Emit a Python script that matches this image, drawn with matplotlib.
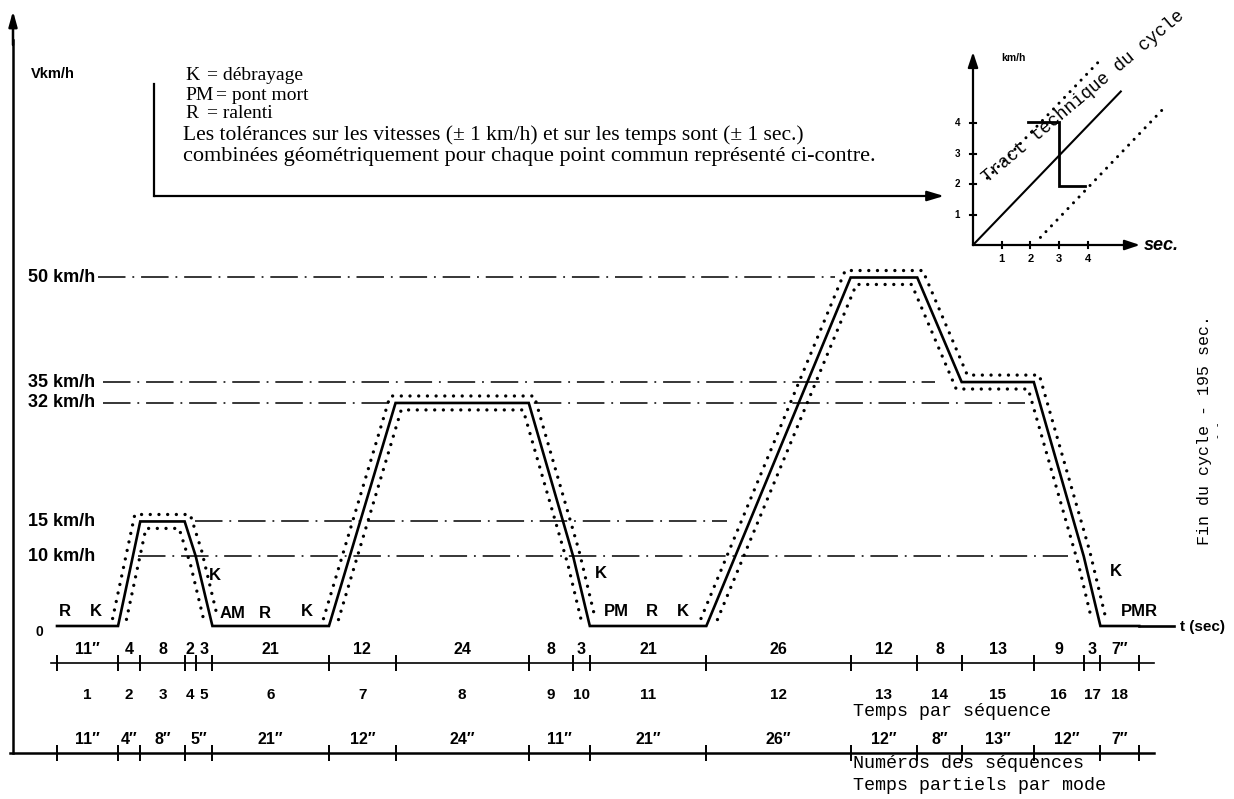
import numpy as np
import matplotlib
matplotlib.use("Agg")
import matplotlib.pyplot as plt
from matplotlib import transforms
from matplotlib.lines import Line2D
from numpy.lib.stride_tricks import sliding_window_view

# ---------------- data ----------------
seq_numbers = list(range(1, 19))
seq_durations = [11, 4, 8, 2, 3, 21, 12, 24, 8, 3, 21, 26, 12, 8, 13, 9, 3, 7]
seq_end_speeds = [0, 15, 15, 10, 0, 0, 32, 32, 10, 0, 0, 50, 50, 35, 35, 10, 0, 0]
seq_time_labels = ["11″", "4", "8", "2", "3", "21", "12", "24", "8", "3",
                   "21", "26", "12", "8", "13", "9", "3", "7″"]
mode_durations = [11, 4, 8, 5, 21, 12, 24, 11, 21, 26, 12, 8, 13, 12, 7]
mode_time_labels = ["11″", "4″", "8″", "5″", "21″", "12″", "24″", "11″",
                    "21″", "26″", "12″", "8″", "13″", "12″", "7″"]
ref_speeds = [50, 35, 32, 15, 10]
ref_speed_labels = ["50 km/h", "35 km/h", "32 km/h", "15 km/h", "10 km/h"]
speed_tolerance = 1.0   # km/h
time_tolerance = 1.0    # s
gear_labels = ["R", "K", "K", "AM", "R", "K", "K", "PM", "R", "K", "K", "PMR"]

inset_ticks = [1, 2, 3, 4]
inset_nominal_x = [0, 5.15]
inset_nominal_y = [0, 5.05]
inset_upper_x = [0.5, 4.35]
inset_upper_y = [2.2, 6.0]
inset_lower_x = [2.35, 6.7]
inset_lower_y = [0.25, 4.55]
inset_step_x = [1.9, 3.0, 3.0, 3.9]
inset_step_y = [4.05, 4.05, 1.95, 1.95]

# ---------------- layout ----------------
W, H = 1234, 799
T0, SX = 57.0, 5.55      # pixel of t=0, pixels per second
V0, SY = 626.0, 6.97     # pixel row of 0 km/h, pixels per km/h

SANS = ["Liberation Sans", "DejaVu Sans"]
SERIF = ["Liberation Serif", "DejaVu Serif"]
MONO = ["Liberation Mono", "DejaVu Sans Mono"]


def fx(x):
    return x / W


def fy(y):
    return 1 - y / H


def tpx(x):
    return (x - T0) / SX


fig = plt.figure(figsize=(W / 100, H / 100), dpi=100)
fig.patch.set_facecolor("white")
ax = fig.add_axes([0, 0, 1, 1])
ax.set_axis_off()
ax.set_xlim(-T0 / SX, (W - T0) / SX)
ax.set_ylim(-(H - V0) / SY, V0 / SY)

# ---- speed trace ----
t_nodes = np.concatenate([[0], np.cumsum(seq_durations)])
v_nodes = np.array([0] + seq_end_speeds, dtype=float)
ax.plot(t_nodes, v_nodes, color="k", lw=1.9, solid_joinstyle="miter", zorder=3)
# time axis continues to the "t (sec)" label
ax.plot([t_nodes[-1], tpx(1174)], [0, 0], color="k", lw=1.9, zorder=3)

# ---- tolerance band (geometric combination of +-1 s and +-1 km/h) ----
dt = 0.02
tg = np.arange(-2.0, t_nodes[-1] + 2.0 + dt, dt)
vg = np.interp(tg, t_nodes, v_nodes)
k = int(round(time_tolerance / dt))
win = sliding_window_view(np.pad(vg, k, mode="edge"), 2 * k + 1)
upper = win.max(axis=1) + speed_tolerance
lower = win.min(axis=1) - speed_tolerance
upper = np.where(upper > speed_tolerance + 0.05, upper, np.nan)
lower = np.where(lower > 0.9, lower, np.nan)
dot_style = dict(color="k", lw=2.4, linestyle=(0, (0.01, 2.6)), dash_capstyle="round")
ax.plot(tg, upper, **dot_style, zorder=2)
ax.plot(tg, lower, **dot_style, zorder=2)

# ---- reference speed lines ----
ref_spans_px = [(98, 835), (103, 935), (103, 1025), (195, 727), (138, 1068)]
for s, (x0, x1) in zip(ref_speeds, ref_spans_px):
    ax.plot([tpx(x0), tpx(x1)], [s, s], color="k", lw=1.1,
            linestyle=(0, (18, 4.5, 1.2, 4.5)), zorder=1)

lbl_tr = transforms.blended_transform_factory(fig.transFigure, ax.transData)
for s, lab in zip(ref_speeds, ref_speed_labels):
    ax.text(fx(28), s, lab, transform=lbl_tr, ha="left", va="center",
            fontsize=13, fontweight="bold", family=SANS)
fig.text(fx(39), fy(632), "0", ha="center", va="center", fontsize=10,
         fontweight="bold", family=SANS)
fig.text(fx(31), fy(74), "Vkm/h", ha="left", va="center", fontsize=10.5,
         fontweight="bold", family=SANS)

# ---- gear / mode labels on trace ----
gear_pos_px = [(65, 612), (96, 612), (215, 575), (233, 613), (265, 613), (307, 612),
               (601, 573), (616, 612), (652, 612), (683, 612), (1116, 572), (1139, 612)]
for lab, (x, y) in zip(gear_labels, gear_pos_px):
    fig.text(fx(x), fy(y), lab, ha="center", va="center", fontsize=12,
             fontweight="bold", family=SANS)
fig.text(fx(1180), fy(627), "t (sec)", ha="left", va="center", fontsize=11,
         fontweight="bold", family=SANS)

# ---- axes of the main chart ----
fig.add_artist(Line2D([fx(13), fx(13)], [fy(753), fy(40)], color="k", lw=1.8))
ax.annotate("", xy=(fx(13), fy(11)), xytext=(fx(13), fy(45)),
            xycoords="figure fraction", textcoords="figure fraction",
            arrowprops=dict(arrowstyle="-|>,head_length=0.9,head_width=0.25",
                            color="k", lw=1.8, shrinkA=0, shrinkB=0))

# ---- time table rows ----
tab_tr = transforms.blended_transform_factory(ax.transData, fig.transFigure)
mode_bounds = np.concatenate([[0], np.cumsum(mode_durations)])
seq_mid = (t_nodes[:-1] + t_nodes[1:]) / 2
mode_mid = (mode_bounds[:-1] + mode_bounds[1:]) / 2

ax.plot([tpx(51), tpx(1154)], [fy(663)] * 2, color="k", lw=1.2, transform=tab_tr)
ax.plot(t_nodes, [fy(663)] * len(t_nodes), "|", color="k", ms=11, mew=1.4,
        transform=tab_tr)
for m, lab in zip(seq_mid, seq_time_labels):
    ax.text(m, fy(650), lab, transform=tab_tr, ha="center", va="center",
            fontsize=11.5, fontweight="bold", family=SANS)
for m, n in zip(seq_mid, seq_numbers):
    ax.text(m, fy(695), str(n), transform=tab_tr, ha="center", va="center",
            fontsize=11, fontweight="bold", family=SANS)

ax.plot([tpx(10), tpx(1154)], [fy(753)] * 2, color="k", lw=1.8, transform=tab_tr)
ax.plot(mode_bounds, [fy(753)] * len(mode_bounds), "|", color="k", ms=11, mew=1.4,
        transform=tab_tr)
for m, lab in zip(mode_mid, mode_time_labels):
    ax.text(m, fy(739), lab, transform=tab_tr, ha="center", va="center",
            fontsize=11.5, fontweight="bold", family=SANS)

for y, s in [(712, "Temps par séquence"), (764, "Numéros des séquences"),
             (785, "Temps partiels par mode")]:
    fig.text(fx(853), fy(y), s, ha="left", va="center", fontsize=13.2, family=MONO)

fig.text(fx(1205), fy(430), "Fin du cycle - 195 sec.", rotation=90, ha="center",
         va="center", fontsize=12, family=MONO)
fig.text(fx(1218), fy(430), "- -", rotation=90, ha="center", va="center",
         fontsize=7, family=MONO)

# ---- header legend ----
for y, key, rest, xr in [(76, "K", "= débrayage", 207), (95, "PM", "= pont mort", 216),
                         (114, "R", "= ralenti", 207)]:
    fig.text(fx(185), fy(y), key, ha="left", va="center", fontsize=14, family=SERIF)
    fig.text(fx(xr), fy(y), rest, ha="left", va="center", fontsize=14, family=SERIF)
fig.text(fx(183), fy(135),
         "Les tolérances sur les vitesses (± 1 km/h) et sur les temps sont (± 1 sec.)",
         ha="left", va="center", fontsize=15.5, family=SERIF)
fig.text(fx(183), fy(156),
         "combinées géométriquement pour chaque point commun représenté ci-contre.",
         ha="left", va="center", fontsize=16, family=SERIF)
fig.add_artist(Line2D([fx(154), fx(154)], [fy(84), fy(196)], color="k", lw=1.6))
ax.annotate("", xy=(fx(944), fy(196)), xytext=(fx(154), fy(196)),
            xycoords="figure fraction", textcoords="figure fraction",
            arrowprops=dict(arrowstyle="-|>,head_length=1.0,head_width=0.3",
                            color="k", lw=1.6, shrinkA=0, shrinkB=0))

# ---- inset: technical trace ----
ins = fig.add_axes([fx(973), fy(245), (1140 - 973) / W, (245 - 52) / H])
ins.set_axis_off()
ins.set_xlim(0, (1140 - 973) / 28.7)
ins.set_ylim(0, (245 - 52) / 30.4)
xmax, ymax = ins.get_xlim()[1], ins.get_ylim()[1]
arr = dict(arrowstyle="-|>,head_length=0.9,head_width=0.3", color="k", lw=1.6,
           shrinkA=0, shrinkB=0)
ins.annotate("", xy=(xmax, 0), xytext=(0, 0), arrowprops=arr, annotation_clip=False)
ins.annotate("", xy=(0, ymax), xytext=(0, 0), arrowprops=arr, annotation_clip=False)
for v in inset_ticks:
    ins.plot([v, v], [-0.1, 0.1], color="k", lw=1.5, clip_on=False)
    ins.plot([-0.1, 0.1], [v, v], color="k", lw=1.5, clip_on=False)
    ins.text(v, -0.45, str(v), ha="center", va="center", fontsize=8,
             fontweight="bold", family=SANS, clip_on=False)
    ins.text(-0.55, v, str(v), ha="center", va="center", fontsize=7,
             fontweight="bold", family=SANS, clip_on=False)
ins.plot(inset_nominal_x, inset_nominal_y, color="k", lw=1.5, clip_on=False)
ins.plot(inset_upper_x, inset_upper_y, **dict(dot_style, lw=2.2), clip_on=False)
ins.plot(inset_lower_x, inset_lower_y, **dict(dot_style, lw=2.2), clip_on=False)
ins.plot(inset_step_x, inset_step_y, color="k", lw=2.0, clip_on=False,
         solid_joinstyle="miter")
ins.text(1.0, 6.15, "km/h", ha="left", va="center", fontsize=7.5,
         fontweight="bold", family=SANS, clip_on=False)
ins.text(5.95, 0, "sec.", ha="left", va="center", fontsize=13, fontweight="bold",
         fontstyle="italic", family=SANS, clip_on=False)
fig.text(fx(1083), fy(97), "Tract technique du cycle", rotation=40, ha="center",
         va="center", rotation_mode="anchor", fontsize=13, family=MONO)

fig.savefig("out.png", dpi=100, facecolor="white")
